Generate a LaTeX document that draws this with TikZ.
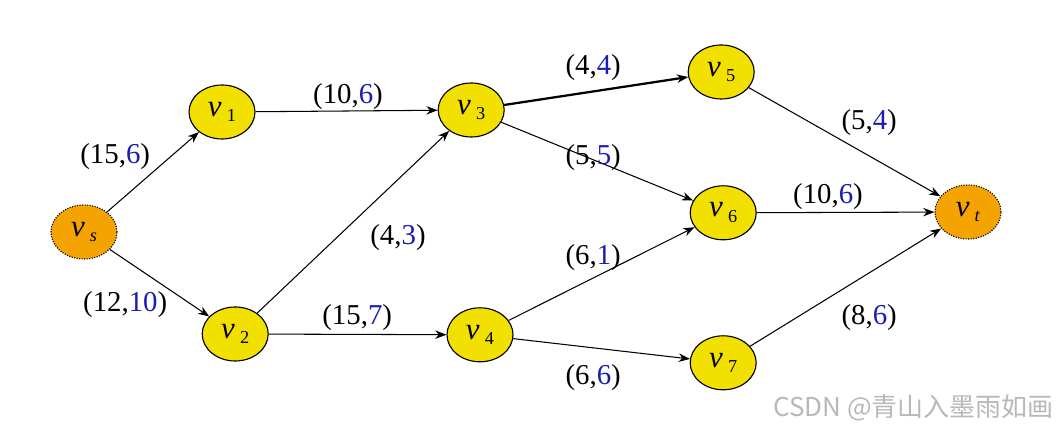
\documentclass[tikz,border=0pt]{standalone}
\usepackage{fontspec}
\setmainfont{Liberation Serif}
\newfontfamily\cjk{Noto Sans CJK SC}
\usepackage{xcolor}
\usepackage{tikz}
\usetikzlibrary{positioning,arrows.meta,shapes.geometric}
\definecolor{nodeyellow}{HTML}{F2E000}
\definecolor{nodeorange}{HTML}{F5A300}
\definecolor{flowblue}{HTML}{1A1AB4}
\newcommand{\capflow}[2]{(#1,\textcolor{flowblue}{#2})}
\newcommand{\vsub}[1]{\textit{v}\,\raisebox{-0.4ex}{\fontsize{13}{15}\selectfont #1}}
\tikzset{
  vnode/.style={draw,ellipse,fill=nodeyellow,line width=0.8pt,minimum width=1.65cm,minimum height=1.35cm,inner sep=0pt,font=\fontsize{22}{26}\selectfont},
  endnode/.style={vnode,fill=nodeorange,densely dotted},
  arr/.style={-{Stealth[length=8pt,width=6pt]},line width=0.75pt},
  lab/.style={font=\fontsize{20.5}{24}\selectfont,inner sep=1pt}
}

\begin{document}
\begin{tikzpicture}[x=1cm,y=1cm]
\useasboundingbox (0,0) rectangle (26.45,10.6);

\node[endnode] (vs) at (2.10,4.80) {\vsub{\textit{s}}};
\node[vnode] (v1) at (5.55,7.80) {\vsub{1}};
\node[vnode] (v2) at (5.88,2.25) {\vsub{2}};
\node[vnode] (v3) at (11.78,7.85) {\vsub{3}};
\node[vnode] (v4) at (12.00,2.23) {\vsub{4}};
\node[vnode] (v5) at (18.03,8.80) {\vsub{5}};
\node[vnode] (v6) at (18.08,5.28) {\vsub{6}};
\node[vnode] (v7) at (18.08,1.53) {\vsub{7}};
\node[endnode] (vt) at (24.20,5.30) {\vsub{\textit{t}}};

\draw[arr] (vs) -- (v1);
\draw[arr] (vs) -- (v2);
\draw[arr] (v1) -- (v3);
\draw[arr] (v2) -- (v3);
\draw[arr] (v2) -- (v4);
\draw[arr,line width=1.6pt] (v3) -- (v5);
\draw[arr] (v3) -- (v6);
\draw[arr] (v4) -- (v6);
\draw[arr] (v4) -- (v7);
\draw[arr] (v5) -- (vt);
\draw[arr] (v6) -- (vt);
\draw[arr] (v7) -- (vt);

\node[lab] (l-s1) at (2.88,6.68) {\capflow{15}{6}};
\node[lab] (l-s2) at (3.13,2.98) {\capflow{12}{10}};
\node[lab] (l-13) at (8.70,8.18) {\capflow{10}{6}};
\node[lab] (l-23) at (9.95,4.65) {\capflow{4}{3}};
\node[lab] (l-24) at (8.93,2.65) {\capflow{15}{7}};
\node[lab] (l-35) at (14.83,8.90) {\capflow{4}{4}};
\node[lab] (l-36) at (14.83,6.65) {\capflow{5}{5}};
\node[lab] (l-46) at (14.83,4.15) {\capflow{6}{1}};
\node[lab] (l-47) at (14.83,1.15) {\capflow{6}{6}};
\node[lab] (l-5t) at (21.73,7.53) {\capflow{5}{4}};
\node[lab] (l-6t) at (20.70,5.68) {\capflow{10}{6}};
\node[lab] (l-7t) at (21.73,2.65) {\capflow{8}{6}};

\node[anchor=east,text=black!28,font=\cjk\fontsize{18.5}{20}\selectfont,inner sep=0pt] (mark) at (26.35,0.40) {CSDN @青山入墨雨如画};
\end{tikzpicture}
\end{document}
